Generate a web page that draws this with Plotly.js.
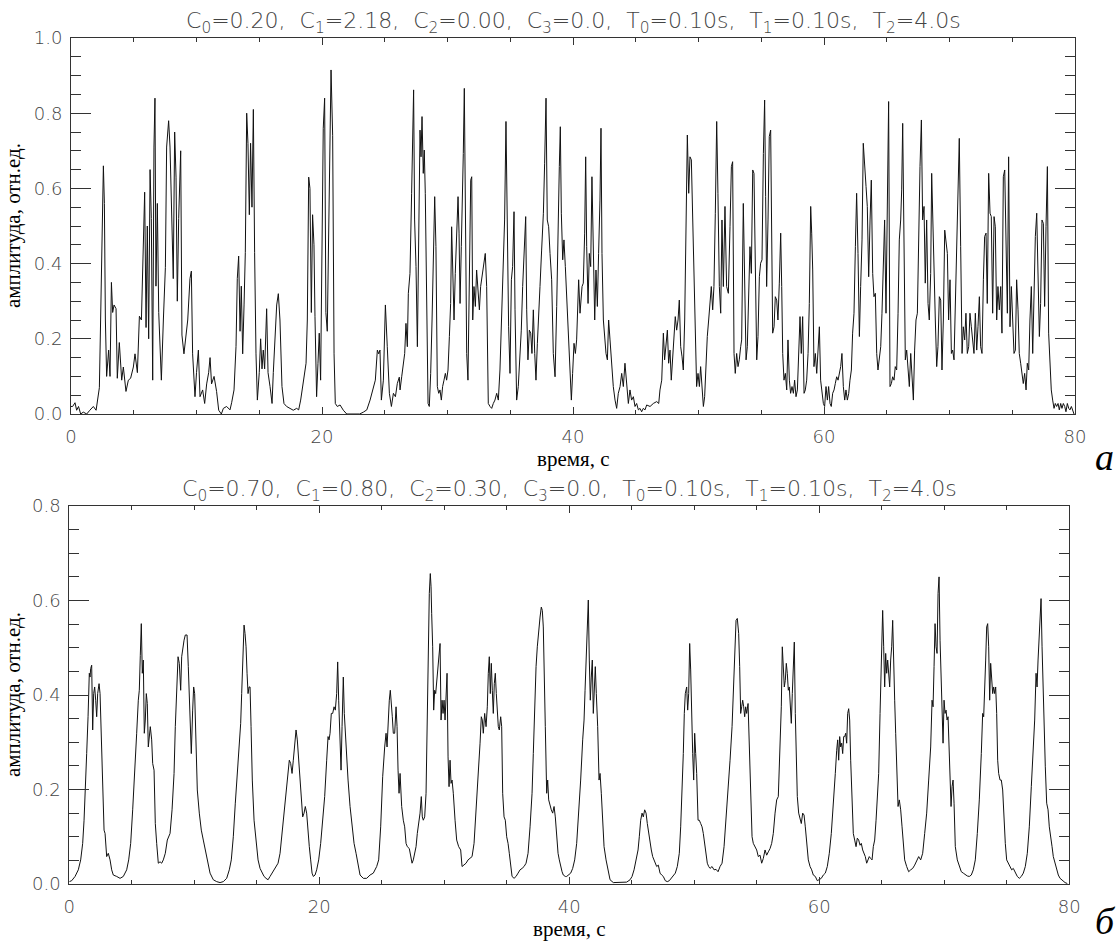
<!DOCTYPE html>
<html>
<head>
<meta charset="utf-8">
<script src="https://cdn.plot.ly/plotly-3.0.1.min.js"></script>
<style>html,body{margin:0;padding:0;background:#fff;}#chart{width:1117px;height:941px;}</style>
</head>
<body>
<div id="chart"></div>
<script>
// ---------- data ----------
const topTime = [0.0,0.13,0.32,0.45,0.6,0.77,0.98,1.25,1.5,1.78,2.0,2.1,2.26,2.36,2.47,2.58,2.66,2.74,2.84,2.92,3.0,3.11,3.22,3.32,3.43,3.59,3.69,3.85,4.04,4.17,4.38,4.57,4.75,4.97,5.1,5.29,5.45,5.61,5.76,5.87,5.98,6.08,6.19,6.3,6.4,6.51,6.61,6.69,6.77,6.88,6.99,7.09,7.2,7.36,7.52,7.62,7.78,7.89,8.05,8.15,8.26,8.37,8.47,8.58,8.74,8.84,9.0,9.16,9.3,9.48,9.59,9.69,9.88,10.0,10.15,10.28,10.49,10.65,10.81,10.97,11.08,11.2,11.4,11.6,11.77,11.98,12.14,12.4,12.67,12.8,12.99,13.15,13.25,13.36,13.47,13.57,13.68,13.79,13.89,14.0,14.1,14.21,14.31,14.42,14.53,14.63,14.74,14.85,15.0,15.11,15.22,15.32,15.43,15.59,15.7,15.86,16.02,16.12,16.28,16.39,16.52,16.65,16.81,16.97,17.18,17.45,17.71,17.98,18.14,18.3,18.51,18.73,18.83,18.94,19.04,19.15,19.25,19.36,19.44,19.57,19.68,19.78,19.89,19.99,20.1,20.21,20.31,20.42,20.52,20.63,20.72,20.85,20.96,21.06,21.22,21.44,21.7,21.97,22.5,23.0,23.3,23.57,23.83,24.1,24.25,24.41,24.52,24.62,24.73,24.89,25.05,25.2,25.37,25.53,25.69,25.85,26.0,26.16,
26.22,26.35,26.48,26.59,26.69,26.80,26.88,27.01,27.14,27.22,27.30,27.38,27.49,27.60,27.70,27.81,27.89,27.97,28.07,28.15,28.23,28.34,28.45,28.55,28.66,28.77,28.87,28.98,29.08,29.19,29.30,29.40,29.51,29.61,29.72,29.83,29.93,30.04,30.15,30.25,30.33,30.41,30.52,30.62,30.73,30.84,30.92,31.00,31.10,31.21,31.26,31.34,31.42,31.53,31.63,31.74,31.85,31.93,32.01,32.11,32.22,32.32,32.43,32.54,32.64,32.80,32.91,33.01,33.12,33.25,33.39,33.52,33.65,33.78,33.92,34.05,34.18,34.32,34.45,34.55,34.66,34.77,34.87,34.98,35.09,35.19,35.30,35.38,35.51,35.64,35.78,35.88,35.99,36.12,36.23,36.31,36.41,36.52,36.63,36.73,36.84,36.95,37.05,37.16,37.26,37.37,37.50,37.64,37.74,37.85,37.95,38.06,38.17,38.30,38.43,38.57,38.70,38.80,38.91,38.99,39.07,39.18,39.28,39.39,39.50,39.63,39.76,39.87,39.97,40.08,40.19,40.29,40.45,40.56,40.72,40.82,40.93,41.01,41.09,41.20,41.30,41.41,41.51,41.62,41.73,41.83,41.94,42.04,42.15,42.23,42.31,42.42,42.52,42.63,42.74,42.84,42.95,43.05,43.21,43.35,43.48,43.61,43.75,43.88,44.01,44.14,44.28,44.41,44.54,44.67,44.81,44.94,45.07,45.21,45.34,45.47,45.60,45.74,45.87,46.14,46.40,46.67,46.83,46.93,47.07,47.20,47.30,47.41,47.52,47.62,47.73,47.83,47.94,48.05,48.15,48.26,48.37,48.47,48.58,48.69,48.79,48.90,49.00,49.11,49.22,49.32,49.43,49.54,49.64,49.75,49.85,49.96,50.07,50.17,50.28,50.39,50.49,50.60,50.70,50.81,50.92,51.02,51.13,51.23,51.34,51.45,51.55,51.66,51.77,51.87,51.98,52.11,52.24,52.38,52.51,52.62,52.72,52.83,52.93,53.04,53.15,53.25,53.36,
53.44,53.57,53.68,53.79,53.89,54.00,54.10,54.21,54.32,54.42,54.53,54.64,54.74,54.85,54.95,55.06,55.17,55.27,55.35,55.43,55.54,55.64,55.75,55.83,55.91,56.02,56.12,56.23,56.33,56.44,56.55,56.63,56.71,56.81,56.92,57.03,57.13,57.24,57.34,57.45,57.56,57.66,57.77,57.88,57.98,58.09,58.19,58.30,58.41,58.51,58.62,58.73,58.83,58.94,59.02,59.10,59.20,59.31,59.42,59.52,59.63,59.73,59.84,59.95,60.05,60.16,60.27,60.37,60.48,60.58,60.69,60.80,60.90,61.01,61.12,61.22,61.33,61.43,61.54,61.65,61.75,61.86,61.97,62.07,62.18,62.28,62.39,62.50,62.60,62.71,62.82,62.92,63.03,63.13,63.24,63.35,63.45,63.56,63.67,63.77,63.88,63.98,64.09,64.20,64.30,64.41,64.52,64.62,64.73,64.83,64.94,65.05,65.15,65.26,65.37,65.47,65.58,65.68,65.79,65.90,66.00,66.11,66.19,66.27,66.37,66.48,66.59,66.69,66.80,66.91,67.01,67.12,67.22,67.33,67.44,67.54,67.65,67.76,67.86,67.97,68.07,68.18,68.29,68.39,68.50,68.58,68.66,68.77,68.87,68.98,69.08,69.19,69.30,69.40,69.51,69.62,69.72,69.83,69.93,70.04,70.15,70.25,70.36,70.47,70.57,70.68,70.78,70.89,71.00,71.10,71.21,71.31,71.42,71.53,71.63,71.74,71.85,71.95,72.06,72.17,72.27,72.38,72.48,72.59,72.70,72.80,72.91,73.01,73.12,73.23,73.33,73.44,73.55,73.65,73.76,73.86,73.97,74.08,74.18,74.29,74.40,74.50,74.61,74.71,74.82,74.93,75.03,75.14,75.25,75.35,75.46,75.56,75.67,75.78,75.88,75.99,76.10,76.20,76.31,76.41,76.52,76.63,76.73,76.84,76.95,77.05,77.16,77.26,77.37,77.48,77.58,77.69,77.80,77.90,78.01,78.11,78.22,78.33,78.43,78.54,78.65,78.75,78.86,78.96,79.07,79.18,79.28,79.39,79.50,79.60,79.71,79.81,79.92];

const topAmp = [0.02,0.02,0.03,0.01,0.02,0.0,0.005,0.0,0.01,0.02,0.01,0.04,0.07,0.25,0.52,0.66,0.56,0.25,0.10,0.13,0.17,0.10,0.35,0.27,0.29,0.28,0.095,0.19,0.09,0.125,0.06,0.09,0.095,0.125,0.16,0.11,0.26,0.25,0.44,0.59,0.23,0.50,0.20,0.65,0.52,0.09,0.71,0.84,0.34,0.56,0.27,0.16,0.09,0.25,0.39,0.71,0.78,0.71,0.45,0.36,0.75,0.63,0.30,0.52,0.70,0.21,0.16,0.20,0.25,0.36,0.38,0.16,0.046,0.11,0.17,0.046,0.064,0.028,0.08,0.11,0.15,0.08,0.10,0.06,0.01,0.0,0.015,0.02,0.011,0.03,0.064,0.18,0.36,0.42,0.22,0.34,0.16,0.29,0.43,0.80,0.72,0.53,0.72,0.55,0.81,0.43,0.16,0.037,0.11,0.20,0.12,0.17,0.12,0.28,0.11,0.073,0.028,0.11,0.21,0.29,0.32,0.25,0.073,0.028,0.02,0.015,0.01,0.015,0.011,0.037,0.09,0.135,0.25,0.63,0.60,0.27,0.53,0.45,0.26,0.046,0.135,0.215,0.09,0.38,0.76,0.84,0.27,0.22,0.50,0.74,0.915,0.74,0.16,0.028,0.02,0.024,0.01,0.0,0.0,0.0,0.005,0.011,0.037,0.073,0.09,0.17,0.16,0.17,0.037,0.09,0.29,0.18,0.055,0.02,0.055,0.046,0.081,0.098,
0.064,0.099,0.126,0.161,0.241,0.179,0.321,0.374,0.587,0.711,0.862,0.516,0.392,0.179,0.445,0.755,0.684,0.791,0.640,0.702,0.587,0.339,0.028,0.020,0.108,0.250,0.427,0.578,0.445,0.073,0.055,0.064,0.037,0.073,0.090,0.108,0.090,0.117,0.206,0.294,0.498,0.392,0.250,0.374,0.498,0.578,0.481,0.294,0.445,0.578,0.693,0.866,0.525,0.161,0.090,0.357,0.622,0.631,0.250,0.339,0.286,0.383,0.321,0.277,0.339,0.374,0.392,0.427,0.339,0.028,0.020,0.015,0.028,0.037,0.055,0.037,0.117,0.250,0.374,0.516,0.778,0.472,0.232,0.108,0.357,0.392,0.538,0.277,0.037,0.073,0.161,0.223,0.339,0.427,0.525,0.277,0.144,0.223,0.215,0.161,0.277,0.161,0.090,0.188,0.277,0.339,0.436,0.534,0.667,0.840,0.516,0.498,0.427,0.357,0.161,0.099,0.286,0.507,0.658,0.764,0.534,0.410,0.463,0.392,0.303,0.232,0.108,0.037,0.108,0.188,0.161,0.197,0.357,0.268,0.339,0.348,0.481,0.684,0.445,0.294,0.427,0.392,0.631,0.445,0.250,0.383,0.286,0.427,0.569,0.760,0.427,0.250,0.197,0.161,0.144,0.250,0.197,0.135,0.073,0.037,0.015,0.055,0.073,0.108,0.073,0.135,0.073,0.028,0.064,0.037,0.046,0.020,0.028,0.011,0.015,0.006,0.015,0.011,0.024,0.020,0.028,0.033,0.028,0.064,0.090,0.215,0.144,0.179,0.223,0.135,0.170,0.090,0.161,0.197,0.259,0.223,0.250,0.303,0.179,0.152,0.117,0.250,0.498,0.742,0.587,0.684,0.676,0.516,0.374,0.161,0.073,0.108,0.073,0.126,0.073,0.020,0.046,0.161,0.206,0.250,0.312,0.339,0.277,0.339,0.534,0.778,0.587,0.339,0.268,0.516,0.339,0.552,0.339,0.321,0.498,0.658,0.671,0.161,0.108,0.161,0.126,0.144,0.179,
0.197,0.560,0.339,0.144,0.179,0.294,0.445,0.374,0.649,0.640,0.427,0.144,0.206,0.365,0.401,0.410,0.693,0.835,0.578,0.339,0.516,0.738,0.755,0.498,0.215,0.232,0.312,0.303,0.250,0.348,0.481,0.339,0.161,0.090,0.108,0.064,0.197,0.090,0.055,0.073,0.055,0.090,0.046,0.064,0.144,0.259,0.161,0.259,0.055,0.064,0.090,0.161,0.294,0.552,0.481,0.383,0.126,0.161,0.108,0.161,0.232,0.090,0.064,0.028,0.020,0.073,0.037,0.073,0.028,0.020,0.055,0.064,0.081,0.099,0.090,0.108,0.126,0.161,0.073,0.037,0.064,0.037,0.055,0.090,0.117,0.215,0.268,0.445,0.587,0.427,0.206,0.339,0.463,0.720,0.649,0.605,0.552,0.365,0.516,0.622,0.374,0.312,0.321,0.161,0.117,0.152,0.179,0.268,0.427,0.516,0.268,0.658,0.831,0.073,0.081,0.099,0.090,0.126,0.117,0.268,0.463,0.516,0.596,0.773,0.427,0.144,0.170,0.126,0.073,0.161,0.108,0.037,0.170,0.250,0.268,0.516,0.658,0.782,0.516,0.552,0.348,0.516,0.294,0.250,0.374,0.640,0.507,0.383,0.250,0.126,0.179,0.312,0.303,0.117,0.250,0.489,0.463,0.427,0.250,0.357,0.161,0.170,0.144,0.286,0.445,0.578,0.733,0.445,0.161,0.232,0.197,0.268,0.161,0.179,0.268,0.232,0.197,0.161,0.268,0.170,0.232,0.312,0.179,0.161,0.357,0.472,0.481,0.294,0.640,0.534,0.525,0.268,0.525,0.498,0.250,0.339,0.277,0.339,0.215,0.631,0.649,0.498,0.268,0.684,0.232,0.339,0.259,0.161,0.170,0.357,0.277,0.161,0.135,0.099,0.081,0.108,0.064,0.135,0.117,0.250,0.339,0.161,0.321,0.472,0.534,0.339,0.206,0.294,0.516,0.507,0.286,0.498,0.658,0.215,0.108,0.064,0.037,0.015,0.028,0.020,0.028,0.011,0.028,0.015,0.028,0.020,0.006,0.028,0.015,0.011,0.020,0.009,0.0];

const bottomTime = [0.0,0.19,0.46,0.72,0.91,1.07,1.18,1.28,1.39,1.50,1.60,1.66,1.71,1.79,1.87,1.95,2.03,2.11,2.19,2.27,2.38,2.46,2.54,2.62,2.70,2.78,2.86,2.99,3.12,3.26,3.39,3.52,3.79,4.06,4.32,4.59,4.75,4.91,5.07,5.23,5.39,5.52,5.60,5.68,5.76,5.84,5.92,6.00,6.08,6.16,6.24,6.32,6.40,6.48,6.59,6.67,6.78,6.88,6.99,7.12,7.26,7.39,7.52,7.68,7.84,7.95,8.06,8.22,8.38,8.48,8.59,8.70,8.80,8.91,8.99,9.07,9.18,9.28,9.42,9.52,9.66,9.76,9.87,9.95,10.03,10.14,10.24,10.40,10.56,10.72,10.88,11.04,11.26,11.52,11.79,12.06,12.32,12.59,12.80,12.96,13.12,13.28,13.44,13.60,13.71,13.79,13.87,13.98,14.06,14.14,14.22,14.30,14.38,14.46,14.54,14.64,14.78,14.94,15.10,15.26,15.42,15.58,15.74,15.90,16.06,16.22,16.38,16.54,16.70,16.86,17.02,17.18,17.34,17.50,17.60,17.71,17.82,17.92,18.03,18.14,18.24,18.35,18.46,18.56,18.67,18.78,18.88,18.99,19.10,19.20,19.31,19.42,19.52,19.66,19.79,19.95,20.11,20.27,20.43,20.59,20.70,20.78,20.86,20.96,21.07,21.18,21.28,21.39,21.47,21.55,21.66,21.74,21.82,21.92,22.00,22.08,22.19,22.30,22.46,22.62,22.78,22.94,23.10,23.26,23.52,23.79,24.06,24.32,24.59,24.75,24.91,25.07,25.23,25.34,25.42,25.50,25.60,25.68,25.76,25.84,25.92,26.03,26.14,26.22,26.30,26.38,
26.46,26.59,26.72,26.83,26.94,27.04,27.20,27.31,27.42,27.52,27.63,27.74,27.84,27.95,28.06,28.16,28.24,28.32,28.43,28.54,28.64,28.72,28.80,28.88,28.94,28.99,29.07,29.15,29.23,29.31,29.39,29.50,29.58,29.66,29.74,29.82,29.90,29.98,30.06,30.14,30.22,30.30,30.38,30.46,30.54,30.62,30.72,30.86,30.99,31.15,31.31,31.42,31.58,31.74,31.90,32.06,32.22,32.38,32.54,32.70,32.86,32.96,33.04,33.12,33.23,33.34,33.44,33.52,33.60,33.68,33.76,33.84,33.92,34.00,34.08,34.16,34.24,34.32,34.40,34.51,34.59,34.67,34.78,34.88,34.99,35.10,35.20,35.31,35.42,35.58,35.74,35.90,36.06,36.22,36.38,36.54,36.70,36.86,37.02,37.12,37.23,37.34,37.44,37.55,37.66,37.76,37.84,37.92,38.00,38.08,38.19,38.27,38.35,38.46,38.56,38.67,38.78,38.88,38.99,39.10,39.20,39.31,39.42,39.52,39.68,39.79,39.95,40.11,40.27,40.43,40.59,40.75,40.91,41.07,41.18,41.26,41.34,41.44,41.52,41.60,41.68,41.76,41.84,41.92,42.00,42.08,42.16,42.27,42.38,42.46,42.56,42.67,42.78,42.94,43.10,43.26,43.52,43.79,44.06,44.32,44.59,44.86,45.02,45.18,45.34,45.50,45.60,45.71,45.82,45.92,46.03,46.14,46.24,46.35,46.46,46.56,46.67,46.78,46.88,46.99,47.12,47.26,47.39,47.52,47.68,47.84,48.00,48.16,48.32,48.48,48.64,48.80,48.91,49.02,49.12,49.20,49.28,49.39,49.47,49.55,49.63,49.71,49.79,49.87,49.95,50.03,50.11,50.19,50.30,50.40,50.51,50.62,50.72,50.83,50.94,51.04,51.15,51.26,51.42,51.58,51.74,51.90,52.06,52.22,52.38,52.54,52.70,52.86,53.02,53.12,53.23,53.34,53.44,53.55,53.63,53.71,53.79,53.87,53.95,54.03,54.11,54.19,54.30,54.40,
54.51,54.62,54.72,54.86,54.99,55.12,55.26,55.39,55.52,55.66,55.79,55.92,56.06,56.19,56.32,56.46,56.59,56.72,56.86,56.96,57.04,57.12,57.20,57.28,57.36,57.44,57.52,57.60,57.68,57.76,57.84,57.92,58.00,58.08,58.16,58.24,58.35,58.46,58.56,58.67,58.78,58.88,58.99,59.12,59.26,59.39,59.52,59.68,59.84,60.00,60.16,60.32,60.48,60.64,60.80,60.96,61.12,61.28,61.39,61.47,61.55,61.63,61.71,61.79,61.87,61.95,62.03,62.11,62.19,62.27,62.35,62.43,62.51,62.62,62.72,62.83,62.94,63.04,63.15,63.26,63.36,63.47,63.58,63.68,63.79,63.90,64.00,64.11,64.22,64.32,64.43,64.54,64.64,64.75,64.86,64.96,65.07,65.15,65.23,65.31,65.39,65.47,65.55,65.63,65.71,65.79,65.87,65.95,66.03,66.11,66.19,66.30,66.40,66.51,66.62,66.72,66.83,66.99,67.15,67.31,67.47,67.63,67.79,67.95,68.11,68.27,68.43,68.59,68.75,68.91,69.02,69.10,69.18,69.26,69.34,69.42,69.50,69.58,69.66,69.74,69.82,69.90,69.98,70.06,70.14,70.22,70.30,70.38,70.46,70.54,70.62,70.70,70.78,70.88,71.04,71.20,71.36,71.52,71.68,71.84,72.00,72.16,72.32,72.48,72.64,72.80,72.96,73.07,73.15,73.23,73.31,73.39,73.47,73.55,73.63,73.71,73.79,73.87,73.95,74.03,74.11,74.19,74.27,74.35,74.46,74.56,74.67,74.78,74.88,74.99,75.12,75.26,75.39,75.52,75.68,75.84,76.00,76.16,76.32,76.48,76.64,76.80,76.96,77.12,77.23,77.34,77.42,77.50,77.58,77.66,77.74,77.82,77.90,77.98,78.08,78.19,78.30,78.40,78.51,78.62,78.72,78.86,78.99,79.12,79.26,79.39,79.52,79.66,79.84];

const bottomAmp = [0.005,0.007,0.016,0.030,0.051,0.086,0.135,0.192,0.276,0.354,0.446,0.438,0.456,0.463,0.326,0.403,0.417,0.389,0.354,0.403,0.424,0.403,0.319,0.227,0.150,0.114,0.107,0.058,0.065,0.051,0.030,0.019,0.016,0.012,0.016,0.030,0.051,0.086,0.157,0.227,0.319,0.389,0.410,0.484,0.551,0.446,0.474,0.319,0.347,0.403,0.382,0.290,0.312,0.333,0.305,0.255,0.241,0.128,0.086,0.044,0.047,0.044,0.051,0.065,0.093,0.100,0.107,0.157,0.234,0.333,0.431,0.481,0.467,0.410,0.481,0.502,0.516,0.527,0.527,0.460,0.347,0.276,0.368,0.417,0.403,0.276,0.199,0.150,0.114,0.093,0.072,0.051,0.023,0.009,0.005,0.003,0.005,0.012,0.030,0.051,0.100,0.171,0.241,0.312,0.340,0.403,0.488,0.548,0.530,0.502,0.446,0.403,0.417,0.417,0.333,0.220,0.135,0.086,0.051,0.033,0.023,0.016,0.012,0.009,0.016,0.023,0.033,0.037,0.044,0.065,0.107,0.150,0.206,0.241,0.262,0.255,0.234,0.262,0.290,0.326,0.305,0.262,0.220,0.178,0.142,0.150,0.164,0.150,0.107,0.079,0.051,0.023,0.016,0.019,0.030,0.051,0.086,0.135,0.185,0.262,0.312,0.305,0.319,0.361,0.361,0.375,0.368,0.403,0.470,0.389,0.276,0.241,0.333,0.438,0.361,0.319,0.262,0.220,0.164,0.121,0.086,0.065,0.037,0.019,0.012,0.012,0.019,0.023,0.037,0.051,0.121,0.227,0.290,0.319,0.290,0.340,0.389,0.410,0.368,0.354,0.319,0.319,0.375,0.333,0.241,0.192,
0.234,0.164,0.135,0.121,0.086,0.079,0.075,0.058,0.044,0.051,0.065,0.079,0.107,0.128,0.150,0.185,0.142,0.135,0.142,0.192,0.375,0.502,0.615,0.657,0.629,0.572,0.502,0.368,0.410,0.403,0.431,0.474,0.502,0.509,0.347,0.389,0.361,0.389,0.347,0.403,0.446,0.269,0.206,0.262,0.213,0.220,0.192,0.135,0.093,0.079,0.072,0.037,0.040,0.044,0.051,0.054,0.058,0.086,0.150,0.220,0.298,0.354,0.347,0.319,0.361,0.333,0.375,0.446,0.481,0.403,0.467,0.410,0.361,0.424,0.446,0.403,0.361,0.333,0.326,0.354,0.333,0.192,0.142,0.135,0.100,0.086,0.065,0.037,0.016,0.012,0.016,0.023,0.030,0.033,0.037,0.044,0.065,0.121,0.192,0.276,0.375,0.460,0.502,0.544,0.565,0.586,0.579,0.544,0.460,0.333,0.192,0.220,0.178,0.164,0.157,0.150,0.164,0.142,0.100,0.065,0.051,0.037,0.026,0.019,0.016,0.016,0.019,0.023,0.033,0.051,0.086,0.150,0.220,0.305,0.347,0.410,0.474,0.544,0.601,0.474,0.389,0.438,0.474,0.361,0.438,0.460,0.403,0.333,0.220,0.234,0.192,0.121,0.079,0.051,0.030,0.009,0.003,0.003,0.004,0.003,0.004,0.009,0.016,0.030,0.051,0.072,0.100,0.135,0.150,0.142,0.157,0.150,0.128,0.107,0.093,0.072,0.058,0.051,0.044,0.037,0.040,0.023,0.019,0.016,0.007,0.005,0.007,0.012,0.016,0.023,0.037,0.065,0.121,0.192,0.276,0.361,0.403,0.417,0.368,0.403,0.509,0.453,0.347,0.276,0.220,0.319,0.276,0.234,0.135,0.135,0.128,0.121,0.107,0.086,0.065,0.044,0.037,0.033,0.037,0.030,0.031,0.026,0.037,0.044,0.079,0.135,0.185,0.262,0.333,0.403,0.474,0.558,0.562,0.530,0.460,0.361,0.375,0.389,0.375,0.354,0.375,0.361,0.382,0.298,
0.192,0.100,0.086,0.079,0.072,0.058,0.061,0.044,0.054,0.072,0.061,0.068,0.075,0.086,0.107,0.150,0.178,0.185,0.276,0.375,0.502,0.460,0.417,0.431,0.467,0.446,0.410,0.417,0.389,0.340,0.403,0.446,0.512,0.361,0.262,0.185,0.150,0.135,0.128,0.150,0.146,0.121,0.093,0.051,0.037,0.030,0.019,0.016,0.007,0.009,0.012,0.019,0.023,0.037,0.065,0.107,0.164,0.234,0.283,0.305,0.262,0.312,0.290,0.298,0.276,0.312,0.312,0.319,0.298,0.361,0.371,0.347,0.262,0.150,0.107,0.093,0.079,0.097,0.093,0.082,0.086,0.072,0.065,0.058,0.044,0.054,0.058,0.054,0.051,0.079,0.093,0.135,0.192,0.234,0.361,0.460,0.579,0.502,0.417,0.488,0.446,0.474,0.438,0.417,0.474,0.502,0.558,0.495,0.389,0.319,0.227,0.164,0.178,0.157,0.121,0.086,0.051,0.037,0.026,0.030,0.033,0.040,0.051,0.058,0.051,0.065,0.107,0.150,0.220,0.290,0.389,0.375,0.460,0.551,0.502,0.488,0.615,0.650,0.516,0.438,0.347,0.298,0.389,0.361,0.368,0.347,0.354,0.290,0.192,0.164,0.206,0.220,0.171,0.079,0.051,0.037,0.026,0.023,0.019,0.017,0.016,0.019,0.030,0.051,0.107,0.178,0.276,0.361,0.354,0.403,0.474,0.544,0.551,0.502,0.389,0.467,0.438,0.403,0.417,0.403,0.417,0.361,0.262,0.234,0.220,0.220,0.199,0.135,0.086,0.051,0.044,0.037,0.030,0.033,0.023,0.016,0.012,0.016,0.023,0.037,0.065,0.121,0.206,0.290,0.347,0.446,0.417,0.474,0.516,0.558,0.604,0.502,0.410,0.319,0.248,0.171,0.157,0.121,0.093,0.079,0.058,0.044,0.030,0.019,0.012,0.009,0.005,0.003,0.001];

const xTickStep = 20, xMinorStep = 5;
const yTickStep = 0.2, yMinorStep = 0.05;
const topRange = [0, 1.0], bottomRange = [0, 0.8], timeRange = [0, 80];
const topTitle = 'C<sub>0</sub>=0.20,\u00a0 C<sub>1</sub>=2.18,\u00a0 C<sub>2</sub>=0.00,\u00a0 C<sub>3</sub>=0.0,\u00a0 T<sub>0</sub>=0.10s,\u00a0 T<sub>1</sub>=0.10s,\u00a0 T<sub>2</sub>=4.0s';
const bottomTitle = 'C<sub>0</sub>=0.70,\u00a0 C<sub>1</sub>=0.80,\u00a0 C<sub>2</sub>=0.30,\u00a0 C<sub>3</sub>=0.0,\u00a0 T<sub>0</sub>=0.10s,\u00a0 T<sub>1</sub>=0.10s,\u00a0 T<sub>2</sub>=4.0s';
const xLabel = 'время, с';
const yLabel = 'амплитуда, отн.ед.';
const panelLabels = ['а', 'б'];

// ---------- layout ----------
const W = 1117, H = 941;
const thinFont = {family: 'DejaVu Sans', size: 18, color: '#444', weight: 200};
const titleFont = {family: 'DejaVu Sans', size: 22, color: '#444', weight: 200};
const serifFont = {family: 'Liberation Serif', size: 21, color: '#000'};
const panelFont = {family: 'Liberation Serif', size: 38, color: '#000', style: 'italic'};
const lineCol = '#333';

function baseAxis(extra) {
  return Object.assign({
    showline: true, linecolor: lineCol, linewidth: 1, mirror: 'allticks',
    showgrid: false, zeroline: false, ticks: 'inside', tickcolor: lineCol, tickwidth: 1,
    automargin: false, tickfont: thinFont, fixedrange: true
  }, extra);
}
function xAxis(domL, domR, anchor) {
  return baseAxis({domain: [domL / W, domR / W], range: timeRange, anchor: anchor,
    tickmode: 'linear', tick0: 0, dtick: xTickStep, ticklen: 7, ticklabelstandoff: 6,
    minor: {dtick: xMinorStep, tick0: 0, ticklen: 4, ticks: 'inside', tickcolor: lineCol, tickwidth: 1}});
}
function yAxis(topPx, botPx, range, anchor) {
  return baseAxis({domain: [1 - botPx / H, 1 - topPx / H], range: range, anchor: anchor,
    tickmode: 'linear', tick0: 0, dtick: yTickStep, tickformat: '.1f', ticklen: 20, ticklabelstandoff: 4,
    minor: {dtick: yMinorStep, tick0: 0, ticklen: 10, ticks: 'inside', tickcolor: lineCol, tickwidth: 1}});
}
function ann(x, y, text, font, extra) {
  return Object.assign({xref: 'paper', yref: 'paper', x: x / W, y: 1 - y / H, text: text, font: font,
    showarrow: false, xanchor: 'center', yanchor: 'middle'}, extra || {});
}

const traces = [
  {x: topTime, y: topAmp, xaxis: 'x', yaxis: 'y', type: 'scatter', mode: 'lines',
   line: {color: '#111', width: 1}, hoverinfo: 'skip'},
  {x: bottomTime, y: bottomAmp, xaxis: 'x2', yaxis: 'y2', type: 'scatter', mode: 'lines',
   line: {color: '#111', width: 1}, hoverinfo: 'skip'}
];

const layout = {
  width: W, height: H, margin: {l: 0, r: 0, t: 0, b: 0},
  paper_bgcolor: '#fff', plot_bgcolor: '#fff', showlegend: false,
  font: {family: 'DejaVu Sans', size: 18, color: '#444'},
  xaxis: xAxis(71, 1075, 'y'),
  yaxis: yAxis(38, 414, topRange, 'x'),
  xaxis2: xAxis(69.3, 1069.3, 'y2'),
  yaxis2: yAxis(506, 884, bottomRange, 'x2'),
  annotations: [
    ann(573, 22, topTitle, titleFont),
    ann(569, 490, bottomTitle, titleFont),
    ann(573, 459, xLabel, serifFont),
    ann(569, 929, xLabel, serifFont),
    ann(13, 226, yLabel, serifFont, {textangle: -90}),
    ann(13, 695, yLabel, serifFont, {textangle: -90}),
    ann(1104, 457, panelLabels[0], panelFont),
    ann(1105, 921, panelLabels[1], panelFont)
  ]
};

Plotly.newPlot('chart', traces, layout, {displayModeBar: false});
</script>
</body>
</html>
